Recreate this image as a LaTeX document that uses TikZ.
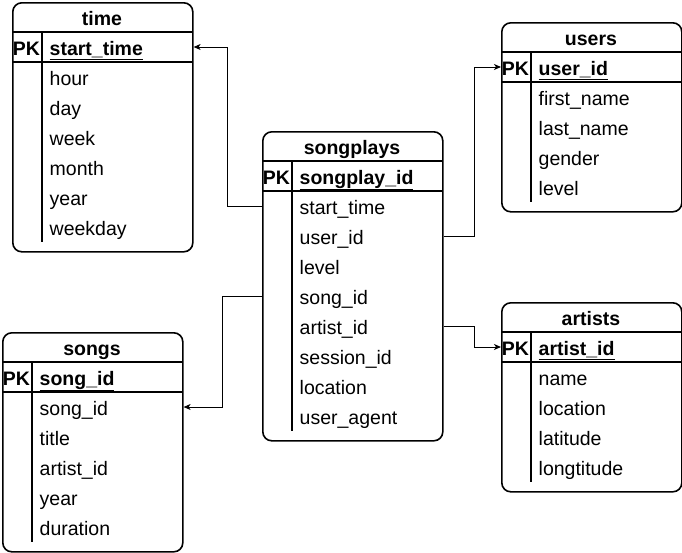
\documentclass[tikz,border=0pt]{standalone}
\usepackage{fontspec}
\setmainfont{Liberation Sans}
\usetikzlibrary{arrows.meta,calc}
\tikzset{
  tbox/.style={draw, line width=1.6pt, rounded corners=9pt, anchor=north west, inner sep=0pt, minimum width=180pt},
  tline/.style={line width=1.6pt},
  fieldtext/.style={anchor=west, inner sep=0pt, text height=20pt, text depth=4pt, font=\fontsize{19.5}{21}\selectfont},
  boldtext/.style={fieldtext, font=\bfseries\fontsize{19.5}{21}\selectfont},
  titletext/.style={boldtext, anchor=center},
  conn/.style={line width=1pt, -{Stealth[length=7pt,width=6pt,inset=2pt]}}
}
\newcommand{\erdtable}[7]{%
  \pgfmathsetmacro{\tabh}{69+30*#4}
  \node[tbox, minimum height=\tabh pt] (#1) at (#2,#3) {};
  \draw[tline] (#2,#3+30) -- ++(180,0);
  \draw[tline] (#2,#3+60) -- ++(180,0);
  \draw[tline] (#2+30,#3+30) -- ++(0,{30+30*#4});
  \node[titletext] (#1-title) at (#2+90,#3+15) {#5};
  \node[titletext] (#1-pklabel) at (#2+14.5,#3+45) {PK};
  \node[boldtext] (#1-pk) at (#2+37.5,#3+45) {\underline{#6}};
  \foreach \f [count=\i] in {#7} {
    \node[fieldtext] (#1-\i) at (#2+37.5,#3+45+30*\i) {\f};
  }
}
\begin{document}
\begin{tikzpicture}[x=1pt,y=-1pt]
\useasboundingbox (0,0) rectangle (682,552);
\erdtable{time}{12}{2}{6}{time}{start\_time}{hour,day,week,month,year,weekday}
\erdtable{songplays}{262}{131}{8}{songplays}{songplay\_id}{start\_time,user\_id,level,song\_id,artist\_id,session\_id,location,user\_agent}
\erdtable{users}{501}{22}{4}{users}{user\_id}{first\_name,last\_name,gender,level}
\erdtable{songs}{2}{332}{5}{songs}{song\_id}{song\_id,title,artist\_id,year,duration}
\erdtable{artists}{501}{302}{4}{artists}{artist\_id}{name,location,latitude,longtitude}
\draw[conn] (songplays.west |- songplays-1) -- ++(-35,0) |- (time.east |- time-pk);
\draw[conn] (songplays.east |- songplays-2) -- ++(31,0) |- (users.west |- users-pk);
\draw[conn] (songplays.west |- songplays-4) -- ++(-40,0) |- (songs.east |- songs-1);
\draw[conn] (songplays.east |- songplays-5) -- ++(31,0) |- (artists.west |- artists-pk);
\end{tikzpicture}
\end{document}
